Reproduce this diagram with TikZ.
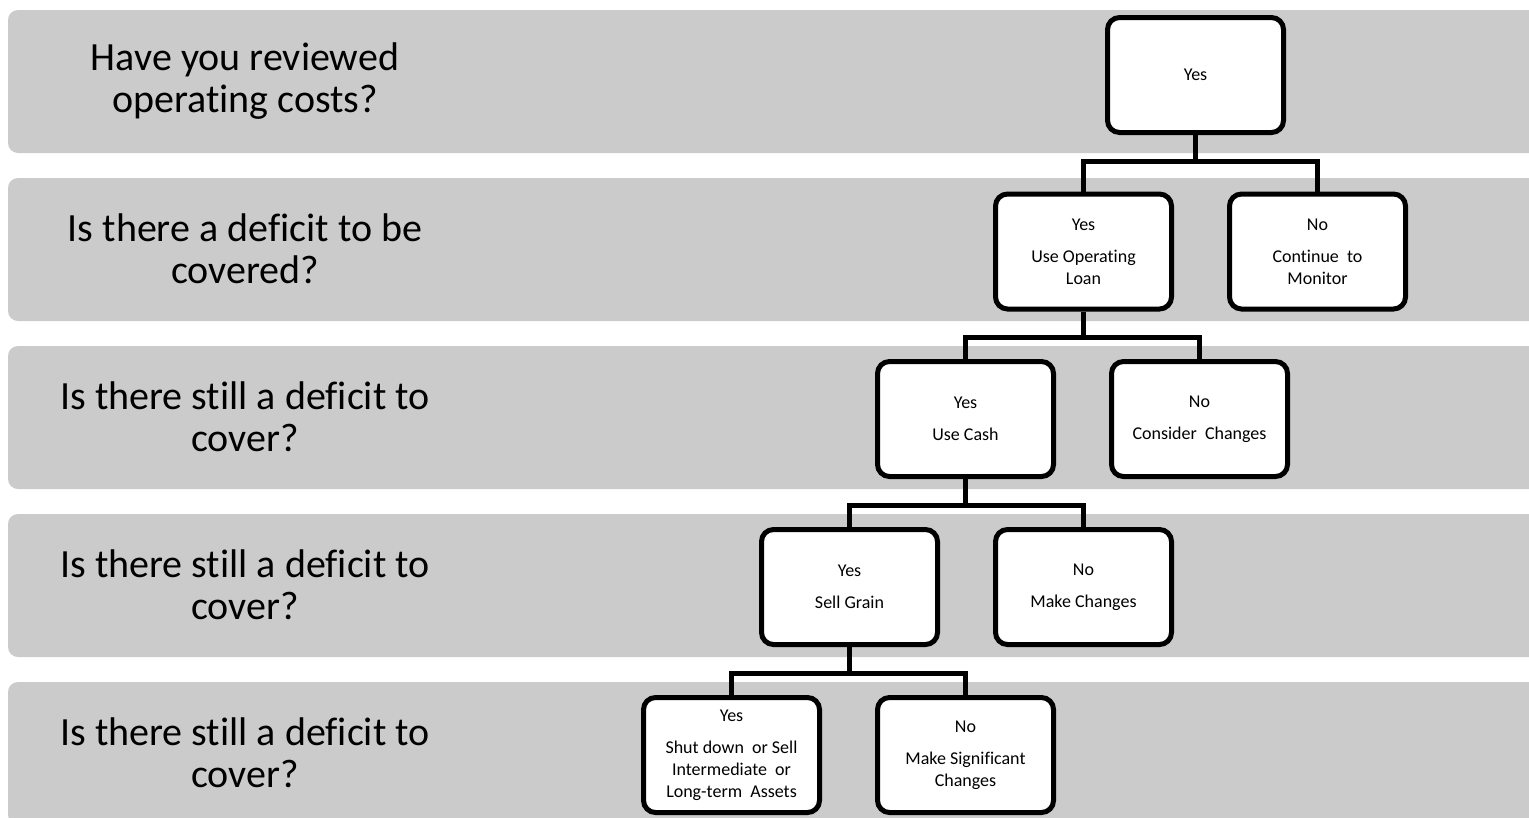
\documentclass[tikz,border=0pt]{standalone}
\usepackage{fontspec}
\setmainfont[Ligatures=NoCommon]{Carlito}
\usetikzlibrary{calc}
\definecolor{bandgray}{RGB}{203,203,203}
\begin{document}
\begin{tikzpicture}[x=1pt,y=-1pt,
  band/.style={fill=bandgray,draw=none,rounded corners=10pt},
  qlabel/.style={align=center,font=\fontsize{40}{42}\selectfont,text=black,inner sep=0pt},
  choice/.style={draw=black,line width=5pt,fill=white,rounded corners=12pt,
    minimum width=176pt,minimum height=115pt,inner sep=0pt,align=center,
    font=\fontsize{18}{22}\selectfont},
  link/.style={draw=black,line width=5pt}]
\useasboundingbox (0,0) rectangle (1529,817);
\clip (0,0) rectangle (1529,817);
% bands
\foreach \i in {0,...,4}{
  \fill[band] (8,10+168*\i) rectangle (1560,153+168*\i);
}
% question labels
\node[qlabel] (q1) at (245,81) {Have you reviewed\\operating costs?};
\node[qlabel] (q2) at (245,249) {Is there a deficit to be\\covered?};
\node[qlabel] (q3) at (245,417) {Is there still a deficit to\\cover?};
\node[qlabel] (q4) at (245,585) {Is there still a deficit to\\cover?};
\node[qlabel] (q5) at (245,753) {Is there still a deficit to\\cover?};
% boxes
\node[choice] (n0) at (1195.5,75) {Yes};
\node[choice] (y1) at (1083.5,251.5) {Yes\\[10pt]Use Operating\\Loan};
\node[choice] (m1) at (1317.5,251.5) {No\\[10pt]Continue~ to\\Monitor};
\node[choice] (y2) at (965.5,419) {Yes\\[10pt]Use Cash};
\node[choice] (m2) at (1199.5,419) {No\\[10pt]Consider~ Changes};
\node[choice] (y3) at (849.5,587) {Yes\\[10pt]Sell Grain};
\node[choice] (m3) at (1083.5,587) {No\\[10pt]Make Changes};
\node[choice] (y4) at (731.5,755) {Yes\\[10pt]Shut down~ or Sell\\Intermediate~ or\\Long-term~ Assets};
\node[choice] (m4) at (965.5,755) {No\\[10pt]Make Significant\\Changes};
% connectors
\coordinate (b1) at ($(n0.south)+(0,26)$);
\coordinate (b2) at ($(y1.south)+(0,26)$);
\coordinate (b3) at ($(y2.south)+(0,26)$);
\coordinate (b4) at ($(y3.south)+(0,26)$);
\draw[link] (n0.south) -- (b1);
\draw[link] (y1.north) |- (b1) -| (m1.north);
\draw[link] (y1.south) -- (b2);
\draw[link] (y2.north) |- (b2) -| (m2.north);
\draw[link] (y2.south) -- (b3);
\draw[link] (y3.north) |- (b3) -| (m3.north);
\draw[link] (y3.south) -- (b4);
\draw[link] (y4.north) |- (b4) -| (m4.north);
\end{tikzpicture}
\end{document}
